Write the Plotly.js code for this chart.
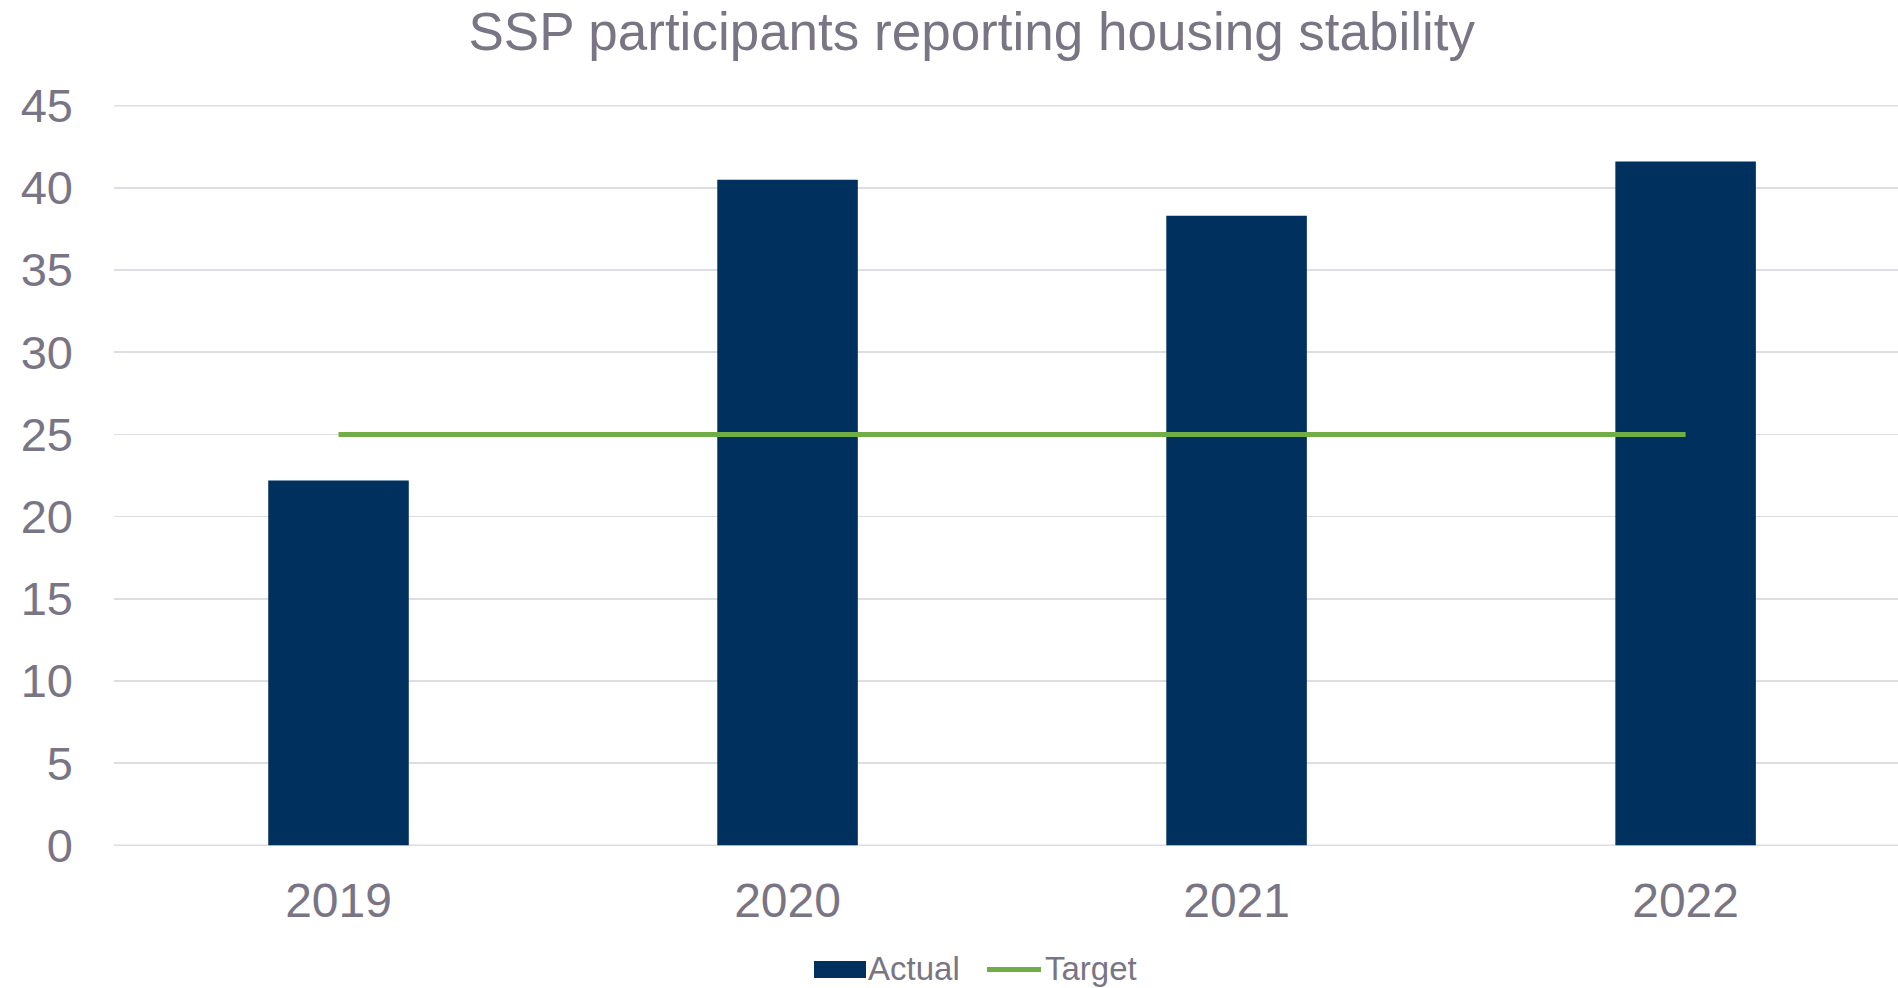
<!DOCTYPE html>
<html>
<head>
<meta charset="utf-8">
<script src="https://cdn.plot.ly/plotly-3.0.1.min.js"></script>
<style>html,body{margin:0;padding:0;background:#fff;}#chart{width:1898px;height:988px;}</style>
</head>
<body>
<div id="chart"></div>
<script>
const years = ["2019", "2020", "2021", "2022"];
const actual = [22.2, 40.5, 38.3, 41.6];
const target = [25, 25, 25, 25];
const yTicks = [0, 5, 10, 15, 20, 25, 30, 35, 40, 45];
const titleText = "SSP participants reporting housing stability";
const seriesNames = ["Actual", "Target"];

const textColor = "#797584";
const barColor = "#00315E";
const lineColor = "#70AD47";
const gridColor = "#DEDDE3";
const font = "Liberation Sans, Arial, sans-serif";

const W = 1898, H = 988;
const M = {l: 114, r: 0, t: 105, b: 142};
const plotW = W - M.l - M.r, plotH = H - M.t - M.b;
const px = p => (p - M.l) / plotW;
const py = p => (H - M.b - p) / plotH;

const traces = [
  {
    type: "bar", name: seriesNames[0], x: years, y: actual,
    marker: {color: barColor, line: {width: 0}},
    width: 0.313, showlegend: false
  },
  {
    type: "scatter", mode: "lines", name: seriesNames[1], x: years, y: target,
    line: {color: lineColor, width: 5}, showlegend: false
  }
];

// edge grid lines (first and last tick) that Plotly omits at the plot boundary
const edgeGrid = [yTicks[0], yTicks[yTicks.length - 1]].map(v => ({
  type: "line", xref: "paper", yref: "y", layer: "below",
  x0: 0, x1: 1, y0: v, y1: v,
  line: {color: gridColor, width: 1.5}
}));

const layout = {
  width: W, height: H,
  margin: {l: M.l, r: M.r, t: M.t, b: M.b, pad: 0, autoexpand: false},
  paper_bgcolor: "#ffffff", plot_bgcolor: "#ffffff",
  font: {family: font, color: textColor},
  title: {
    text: titleText,
    font: {family: font, size: 53, color: textColor},
    x: 0.512, xref: "container", xanchor: "center",
    y: 0.968, yref: "container", yanchor: "middle"
  },
  xaxis: {
    type: "category",
    range: [-0.5, 3.473],
    showgrid: false, zeroline: false, showline: false,
    ticks: "",
    tickfont: {family: font, size: 48, color: textColor},
    ticklabelstandoff: 22
  },
  yaxis: {
    range: [-0.04, 45.04],
    tickvals: yTicks,
    showgrid: true, gridcolor: gridColor, gridwidth: 1.5,
    zeroline: false, showline: false,
    ticks: "",
    tickfont: {family: font, size: 47, color: textColor},
    ticklabelstandoff: 40
  },
  showlegend: false,
  shapes: edgeGrid.concat([
    {type: "rect", xref: "paper", yref: "paper",
     x0: px(814), x1: px(866), y0: py(978), y1: py(961),
     fillcolor: barColor, line: {width: 0}},
    {type: "line", xref: "paper", yref: "paper",
     x0: px(987), x1: px(1041), y0: py(969.5), y1: py(969.5),
     line: {color: lineColor, width: 5}}
  ]),
  annotations: [
    {text: seriesNames[0], xref: "paper", yref: "paper",
     x: px(866), y: py(968), xanchor: "left", yanchor: "middle", showarrow: false,
     font: {family: font, size: 33, color: textColor}},
    {text: seriesNames[1], xref: "paper", yref: "paper",
     x: px(1043), y: py(968), xanchor: "left", yanchor: "middle", showarrow: false,
     font: {family: font, size: 33, color: textColor}}
  ],
  bargap: 0.687
};

Plotly.newPlot("chart", traces, layout, {displayModeBar: false, staticPlot: true});
</script>
</body>
</html>
